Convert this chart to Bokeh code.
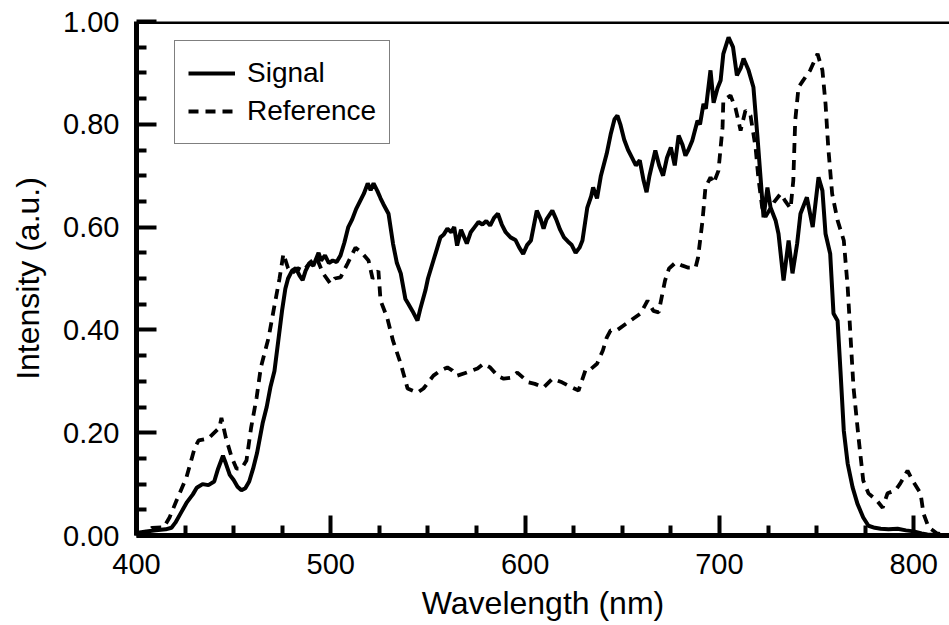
from bokeh.plotting import figure
from bokeh.models import Range1d, FixedTicker, NumeralTickFormatter, Span
from bokeh.embed import file_html
from bokeh.resources import INLINE

# ---- data ----
signal_nm = [400, 405, 410, 415, 418, 420, 423, 426, 429, 431, 434, 437, 440, 442, 444.5, 446, 448, 450,
             452, 454, 456, 458, 460, 462, 465, 467, 469, 471, 473, 475, 476.6, 478, 480, 482, 484, 485.5,
             487, 489, 491, 493.7, 495, 497, 499, 501, 503, 505, 507, 509, 511, 513, 515, 517, 519, 520.5,
             522, 524, 525.6, 527, 529.7, 532, 534, 536, 538.4, 540, 542, 544.6, 546, 548.7, 550, 552.8,
             554, 556.4, 558, 560, 562, 563.5, 565, 567, 570, 572, 574, 576, 578, 580, 582, 584, 586, 588,
             590, 592.5, 595, 597, 599, 601, 603, 606, 608, 609.5, 611, 614, 616, 618, 620, 622, 624, 626,
             628, 629.5, 632, 634, 635, 637, 639, 642, 644, 646, 647.5, 649, 651, 653, 655, 657, 659, 661,
             662.5, 664, 667, 669, 671, 673, 675, 677, 679, 681, 682.5, 684, 686, 688.7, 690, 691.8, 693,
             695.4, 697, 699, 700.6, 702, 704.7, 707, 709, 711, 712.4, 715, 717.5, 719.6, 721, 722.7, 724.7,
             726.3, 728.9, 730.4, 733, 735.6, 737.6, 740, 741.7, 745, 748, 751, 753, 754.6, 757, 758.7,
             760.8, 762.3, 764, 766, 768.5, 771, 774, 776.7, 780, 783, 787, 791.7, 796, 800, 804, 807, 812,
             818]
signal_val = [0.005, 0.008, 0.010, 0.012, 0.015, 0.025, 0.045, 0.065, 0.080, 0.093, 0.100, 0.098, 0.105,
              0.130, 0.155, 0.140, 0.118, 0.108, 0.095, 0.088, 0.092, 0.105, 0.130, 0.160, 0.220, 0.250,
              0.290, 0.320, 0.380, 0.440, 0.480, 0.500, 0.515, 0.520, 0.505, 0.497, 0.515, 0.530, 0.525,
              0.550, 0.535, 0.545, 0.530, 0.535, 0.532, 0.545, 0.570, 0.600, 0.615, 0.635, 0.650, 0.665,
              0.685, 0.672, 0.685, 0.670, 0.656, 0.645, 0.626, 0.568, 0.530, 0.510, 0.460, 0.450, 0.437,
              0.418, 0.440, 0.477, 0.500, 0.535, 0.550, 0.580, 0.585, 0.597, 0.590, 0.600, 0.564, 0.595,
              0.568, 0.590, 0.600, 0.610, 0.605, 0.612, 0.603, 0.618, 0.626, 0.605, 0.590, 0.580, 0.575,
              0.560, 0.548, 0.565, 0.574, 0.632, 0.615, 0.597, 0.615, 0.632, 0.615, 0.595, 0.580, 0.572,
              0.565, 0.550, 0.560, 0.574, 0.638, 0.660, 0.677, 0.656, 0.700, 0.743, 0.780, 0.810, 0.817,
              0.800, 0.770, 0.750, 0.735, 0.720, 0.730, 0.690, 0.668, 0.700, 0.749, 0.720, 0.700, 0.735,
              0.755, 0.720, 0.778, 0.760, 0.739, 0.750, 0.768, 0.807, 0.800, 0.840, 0.830, 0.905, 0.842,
              0.870, 0.885, 0.937, 0.969, 0.950, 0.895, 0.910, 0.928, 0.905, 0.872, 0.774, 0.704, 0.619,
              0.677, 0.638, 0.613, 0.587, 0.496, 0.574, 0.510, 0.568, 0.626, 0.658, 0.600, 0.697, 0.671,
              0.587, 0.548, 0.432, 0.418, 0.320, 0.204, 0.140, 0.094, 0.062, 0.035, 0.019, 0.015, 0.013,
              0.012, 0.013, 0.010, 0.008, 0.004, 0.002, 0.001, 0.0]

reference_nm = [400, 405, 408, 414, 417, 420.6, 425.7, 430, 432, 437, 442.7, 443.7, 446, 449, 451.5, 454,
                456.6, 459, 461.8, 464, 468, 470.5, 473.6, 475.6, 478, 480, 483, 486, 489, 492.6, 496,
                499.8, 502, 505, 508.6, 512.7, 516, 519.4, 521.5, 524.5, 525.6, 529, 532, 536, 539.5,
                544.6, 547.7, 552.8, 556, 560, 562.6, 565, 570, 575.5, 578.6, 582, 586, 589, 592.5, 596,
                601.7, 605, 609.5, 614, 619, 623, 627.5, 631, 632.6, 637, 640, 642, 644, 647.5, 652.7,
                659.4, 663, 666, 668.7, 672, 674, 677.4, 681, 684, 687.7, 689, 691.3, 692.8, 695.4, 697,
                699.5, 701.6, 702, 705.7, 708.3, 710.9, 713.4, 716, 718.6, 720, 722, 723.7, 728, 731.5,
                734, 736.6, 738, 739, 740.7, 743, 746.7, 750.5, 753, 754.6, 756, 758, 760.8, 764, 766,
                767.5, 769, 771.6, 774, 776.7, 781, 784, 786.5, 790.6, 793, 796.8, 799.4, 803.5, 805,
                807.6, 812, 818]
reference_val = [0.0, 0.005, 0.015, 0.016, 0.035, 0.068, 0.113, 0.171, 0.185, 0.189, 0.210, 0.229, 0.190,
                 0.152, 0.130, 0.130, 0.146, 0.210, 0.268, 0.327, 0.385, 0.437, 0.500, 0.548, 0.520, 0.510,
                 0.520, 0.515, 0.530, 0.541, 0.510, 0.490, 0.500, 0.502, 0.529, 0.560, 0.550, 0.535, 0.500,
                 0.515, 0.457, 0.424, 0.379, 0.334, 0.286, 0.278, 0.286, 0.311, 0.320, 0.327, 0.321, 0.311,
                 0.317, 0.325, 0.334, 0.327, 0.310, 0.305, 0.307, 0.317, 0.298, 0.295, 0.288, 0.305, 0.298,
                 0.290, 0.282, 0.321, 0.320, 0.334, 0.360, 0.385, 0.399, 0.400, 0.414, 0.432, 0.457, 0.437,
                 0.434, 0.496, 0.519, 0.531, 0.525, 0.521, 0.521, 0.541, 0.613, 0.677, 0.697, 0.685, 0.710,
                 0.794, 0.846, 0.856, 0.831, 0.788, 0.827, 0.817, 0.755, 0.697, 0.638, 0.620, 0.648, 0.665,
                 0.650, 0.636, 0.690, 0.807, 0.872, 0.885, 0.905, 0.937, 0.905, 0.840, 0.755, 0.665, 0.613,
                 0.574, 0.483, 0.385, 0.288, 0.190, 0.107, 0.082, 0.068, 0.054, 0.082, 0.088, 0.101, 0.126,
                 0.107, 0.082, 0.043, 0.016, 0.004, 0.0]

x_major = [400, 500, 600, 700, 800]
x_minor = [425, 450, 475, 525, 550, 575, 625, 650, 675, 725, 750, 775, 825]
y_major = [0.0, 0.2, 0.4, 0.6, 0.8, 1.0]
y_minor = [0.05, 0.10, 0.15, 0.25, 0.30, 0.35, 0.45, 0.50, 0.55, 0.65, 0.70, 0.75, 0.85, 0.90, 0.95]

FONT = "Liberation Sans"

p = figure(width=949, height=625, output_backend="svg", toolbar_location=None,
           x_range=Range1d(400, 818.4), y_range=Range1d(0, 1.0),
           min_border_left=136, min_border_right=0, min_border_top=21, min_border_bottom=90)
p.outline_line_color = None
p.grid.visible = False
p.background_fill_color = "white"

p.line(signal_nm, signal_val, line_color="black", line_width=4, legend_label="Signal")
p.line(reference_nm, reference_val, line_color="black", line_width=3.8, line_dash="10 7",
       legend_label="Reference")

for ax in (p.xaxis[0], p.yaxis[0]):
    ax.axis_line_width = 5
    ax.axis_line_color = "black"
    ax.major_tick_in = 20
    ax.major_tick_out = 0
    ax.minor_tick_in = 10
    ax.minor_tick_out = 0
    ax.major_tick_line_width = 4
    ax.minor_tick_line_width = 4
    ax.major_tick_line_color = "black"
    ax.minor_tick_line_color = "black"
    ax.major_label_text_font = FONT
    ax.major_label_text_font_size = "29px"
    ax.major_label_text_color = "black"
    ax.axis_label_text_font = FONT
    ax.axis_label_text_font_size = "32px"
    ax.axis_label_text_font_style = "normal"
    ax.axis_label_text_color = "black"

p.xaxis.ticker = FixedTicker(ticks=x_major, minor_ticks=x_minor)
p.yaxis.ticker = FixedTicker(ticks=y_major, minor_ticks=y_minor)
p.yaxis.formatter = NumeralTickFormatter(format="0.00")
p.xaxis.axis_label = "Wavelength (nm)"
p.yaxis.axis_label = "Intensity (a.u.)"
p.xaxis.major_label_standoff = 18
p.yaxis.major_label_standoff = 17
p.xaxis.axis_label_standoff = 8
p.yaxis.axis_label_standoff = 14

top = Span(location=1.0, dimension="width", line_color="black", line_width=5)
p.add_layout(top)

lg = p.legend[0]
lg.location = (38, 391)
lg.label_text_font = FONT
lg.label_text_font_size = "28px"
lg.label_text_color = "black"
lg.glyph_width = 47
lg.glyph_height = 38
lg.label_height = 38
lg.label_standoff = 12
lg.spacing = 0
lg.padding = 13
lg.margin = 0
lg.border_line_color = "black"
lg.border_line_width = 1.5
lg.background_fill_alpha = 1.0

open("out.html", "w").write(file_html(p, INLINE))
